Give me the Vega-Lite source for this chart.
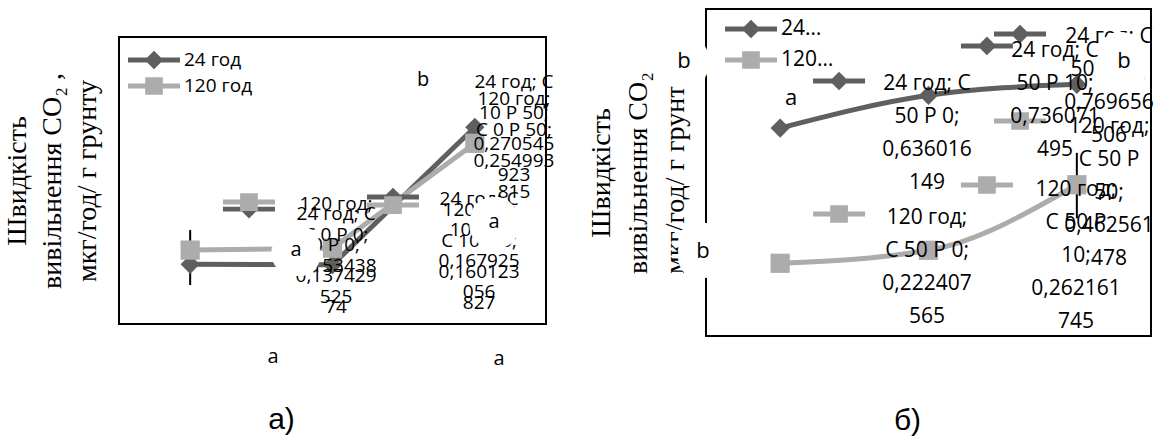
{
  "$schema": "https://vega.github.io/schema/vega-lite/v6.json",
  "background": "white",
  "padding": {"left": 2, "top": 8, "right": 0, "bottom": 0},
  "spacing": 30,
  "config": {
    "view": {"stroke": "black", "strokeWidth": 2},
    "axis": {"grid": false, "labels": false, "ticks": false, "domain": false, "titleColor": "black", "titleFontWeight": "normal"}
  },
  "resolve": {"scale": {"x": "independent", "y": "independent", "color": "independent", "shape": "independent"}},
  "datasets": {
    "a_line": [
      {"x": 1, "v": 0.1378, "s": "24 год"},
      {"x": 2, "v": 0.13742974, "s": "24 год"},
      {"x": 3, "v": 0.270545923, "s": "24 год"},
      {"x": 1, "v": 0.1516, "s": "120 год"},
      {"x": 2, "v": 0.153438525, "s": "120 год"},
      {"x": 3, "v": 0.254993815, "s": "120 год"}
    ],
    "a_err": [{"x": 1, "v": 0.1177, "hi": 0.171}],
    "a_keys": [
      {"x": 1.413, "v": 0.1913, "s": "24 год"},
      {"x": 1.413, "v": 0.1981, "s": "120 год"},
      {"x": 2.425, "v": 0.203, "s": "24 год"},
      {"x": 2.425, "v": 0.1952, "s": "120 год"}
    ],
    "a_labels": [
      {"x": 2.025, "v": 0.1865, "t": ["24 год; С", "0 Р 0;", "0,137429", "74"]},
      {"x": 2.025, "v": 0.1962, "t": ["120 год;", "С 0 Р 0;", "0,153438", "525"]},
      {"x": 3.03, "v": 0.201, "t": ["24 год; С", "10 Р 0;", "0,167925", "056"]},
      {"x": 3.03, "v": 0.1904, "t": ["120 год;", "С 10 Р 0;", "0,160123", "827"]},
      {"x": 3.275, "v": 0.3144, "t": ["24 год; С", "10 Р 50;", "0,270545", "923"]},
      {"x": 3.275, "v": 0.297, "t": ["120 год;", "С 0 Р 50;", "0,254993", "815"]}
    ],
    "a_letters": [
      {"x": 2.636, "v": 0.3163, "t": "b"},
      {"x": 1.744, "v": 0.1516, "t": "a"},
      {"x": 3.135, "v": 0.1787, "t": "a"},
      {"x": 1.582, "v": 0.0479, "t": "a"},
      {"x": 3.17, "v": 0.046, "t": "a"}
    ],
    "b_line": [
      {"x": 1, "v": 0.636016149, "s": "24 год"},
      {"x": 2, "v": 0.736071495, "s": "24 год"},
      {"x": 3, "v": 0.769656506, "s": "24 год"},
      {"x": 1, "v": 0.222407565, "s": "120 год"},
      {"x": 2, "v": 0.262161745, "s": "120 год"},
      {"x": 3, "v": 0.462561478, "s": "120 год"}
    ],
    "b_err": [{"x": 3, "v": 0.36, "hi": 0.56}],
    "b_keys": [
      {"x": 1.397, "v": 0.7798, "s": "24 год"},
      {"x": 1.397, "v": 0.3731, "s": "120 год"},
      {"x": 2.394, "v": 0.8869, "s": "24 год"},
      {"x": 2.617, "v": 0.9235, "s": "24 год"},
      {"x": 2.617, "v": 0.6575, "s": "120 год"},
      {"x": 2.394, "v": 0.4618, "s": "120 год"}
    ],
    "b_labels": [
      {"x": 1.99, "v": 0.7737, "t": ["24 год; С", "50 Р 0;", "0,636016", "149"]},
      {"x": 1.99, "v": 0.3609, "t": ["120 год;", "С 50 Р 0;", "0,222407", "565"]},
      {"x": 2.853, "v": 0.8716, "t": ["24 год; С", "50 Р 10;", "0,736071", "495"]},
      {"x": 3.217, "v": 0.9174, "t": ["24 год; С", "50 Р 50;", "0,769656", "506"]},
      {"x": 3.217, "v": 0.6422, "t": ["120 год;", "С 50 Р", "50;", "0,462561", "478"]},
      {"x": 2.994, "v": 0.4495, "t": ["120 год;", "С 50 Р", "10;", "0,262161", "745"]}
    ],
    "b_letters": [
      {"x": 0.352, "v": 0.841, "t": "b"},
      {"x": 0.48, "v": 0.26, "t": "b"},
      {"x": 3.318, "v": 0.841, "t": "b"},
      {"x": 1.073, "v": 0.728, "t": "a"}
    ],
    "empty": []
  },
  "hconcat": [
    {
      "spacing": 0,
      "vconcat": [
        {
          "width": 427,
          "height": 27,
          "view": {"stroke": null},
          "data": {"name": "empty"},
          "mark": "point",
          "encoding": {}
        },
        {
          "width": 427,
          "height": 287,
          "resolve": {"scale": {"color": "independent", "shape": "independent"}},
          "encoding": {
            "x": {"field": "x", "type": "quantitative", "scale": {"domain": [0.5, 3.5]},
                  "axis": {"title": "а)", "titleFont": "Liberation Sans", "titleFontSize": 30, "titleX": 162, "titleY": 104, "titleAlign": "center", "titleBaseline": "alphabetic"}},
            "y": {"field": "v", "type": "quantitative", "scale": {"domain": [0.08, 0.358]},
                  "axis": {"title": ["Швидкість", "вивільнення CO₂ ,", "мкг/год/ г грунту"], "titleFont": "Liberation Serif", "titleFontSize": 28, "titleLineHeight": 35, "titlePadding": 18}}
          },
          "layer": [
            {
              "data": {"name": "a_err"},
              "mark": {"type": "rule", "color": "black", "strokeWidth": 2},
              "encoding": {"y2": {"field": "hi"}}
            },
            {
              "data": {"name": "a_line"},
              "mark": {"type": "line", "strokeWidth": 5},
              "encoding": {
                "color": {"field": "s", "type": "nominal", "scale": {"domain": ["24 год", "120 год"], "range": ["#5f5f5f", "#acacac"]}, "legend": null}
              }
            },
            {
              "data": {"name": "a_line"},
              "mark": {"type": "point", "filled": true, "opacity": 1},
              "encoding": {
                "color": {"field": "s", "type": "nominal", "scale": {"domain": ["24 год", "120 год"], "range": ["#5f5f5f", "#acacac"]}, "legend": null},
                "shape": {"field": "s", "type": "nominal", "scale": {"domain": ["24 год", "120 год"], "range": ["diamond", "square"]}, "legend": null},
                "size": {"value": 370}
              }
            },
            {
              "data": {"name": "a_keys"},
              "mark": {"type": "point", "filled": true, "opacity": 1},
              "encoding": {
                "color": {"field": "s", "type": "nominal", "scale": {"domain": ["24 год", "120 год"], "range": ["#5f5f5f", "#acacac"]},
                          "legend": {"title": null, "orient": "none", "legendX": 9, "legendY": 10, "symbolSize": 676, "symbolOffset": 13, "labelOffset": 17, "rowPadding": 3, "labelFont": "Open Sans", "labelFontSize": 19, "labelColor": "black", "symbolStrokeWidth": 0}},
                "shape": {"field": "s", "type": "nominal", "scale": {"domain": ["24 год", "120 год"], "range": ["M-2,-0.19H2V0.19H-2Z M0,-0.72L0.72,0L0,0.72L-0.72,0Z", "M-2,-0.19H2V0.19H-2Z M-0.68,-0.68H0.68V0.68H-0.68Z"]},
                          "legend": {"title": null, "orient": "none", "legendX": 9, "legendY": 10, "symbolSize": 676, "symbolOffset": 13, "labelOffset": 17, "rowPadding": 3, "labelFont": "Open Sans", "labelFontSize": 19, "labelColor": "black", "symbolStrokeWidth": 0}},
                "size": {"value": 676}
              }
            },
            {
              "data": {"name": "a_labels"},
              "mark": {"type": "text", "font": "Open Sans", "fontSize": 19, "lineHeight": 31, "baseline": "line-top", "dy": -15.5, "align": "center", "color": "black"},
              "encoding": {"text": {"field": "t"}}
            },
            {
              "data": {"name": "a_letters"},
              "mark": {"type": "text", "font": "Open Sans", "fontSize": 20, "baseline": "middle", "align": "center", "fill": "white", "stroke": "white", "strokeWidth": 40, "strokeJoin": "round"},
              "encoding": {"text": {"field": "t"}}
            },
            {
              "data": {"name": "a_letters"},
              "mark": {"type": "text", "font": "Open Sans", "fontSize": 20, "baseline": "middle", "align": "center", "color": "black"},
              "encoding": {"text": {"field": "t"}}
            }
          ]
        }
      ]
    },
    {
      "width": 445,
      "height": 327,
      "resolve": {"scale": {"color": "independent", "shape": "independent"}},
      "encoding": {
        "x": {"field": "x", "type": "quantitative", "scale": {"domain": [0.5, 3.5]},
              "axis": {"title": "б)", "titleFont": "Liberation Sans", "titleFontSize": 30, "titleX": 201, "titleY": 93, "titleAlign": "center", "titleBaseline": "alphabetic"}},
        "y": {"field": "v", "type": "quantitative", "scale": {"domain": [0, 1]},
              "axis": {"title": ["Швидкість", "вивільнення CO₂", "мкг/год/ г грунту"], "titleFont": "Liberation Serif", "titleFontSize": 28, "titleLineHeight": 37, "titlePadding": 17}}
      },
      "layer": [
        {
          "data": {"name": "b_err"},
          "mark": {"type": "rule", "color": "black", "strokeWidth": 2},
          "encoding": {"y2": {"field": "hi"}}
        },
        {
          "data": {"name": "b_line"},
          "mark": {"type": "line", "strokeWidth": 5, "interpolate": "monotone"},
          "encoding": {
            "color": {"field": "s", "type": "nominal", "scale": {"domain": ["24 год", "120 год"], "range": ["#5f5f5f", "#acacac"]}, "legend": null}
          }
        },
        {
          "data": {"name": "b_line"},
          "mark": {"type": "point", "filled": true, "opacity": 1},
          "encoding": {
            "color": {"field": "s", "type": "nominal", "scale": {"domain": ["24 год", "120 год"], "range": ["#5f5f5f", "#acacac"]}, "legend": null},
            "shape": {"field": "s", "type": "nominal", "scale": {"domain": ["24 год", "120 год"], "range": ["diamond", "square"]}, "legend": null},
            "size": {"value": 370}
          }
        },
        {
          "data": {"name": "b_keys"},
          "mark": {"type": "point", "filled": true, "opacity": 1},
          "encoding": {
            "color": {"field": "s", "type": "nominal", "scale": {"domain": ["24 год", "120 год"], "range": ["#5f5f5f", "#acacac"]},
                      "legend": {"title": null, "orient": "none", "legendX": 19, "legendY": 7, "symbolSize": 676, "symbolOffset": 13, "labelOffset": 17, "rowPadding": 8, "labelFont": "Open Sans", "labelFontSize": 21, "labelColor": "black", "symbolStrokeWidth": 0, "labelExpr": "split(datum.label, ' ')[0] + '…'"}},
            "shape": {"field": "s", "type": "nominal", "scale": {"domain": ["24 год", "120 год"], "range": ["M-2,-0.19H2V0.19H-2Z M0,-0.72L0.72,0L0,0.72L-0.72,0Z", "M-2,-0.19H2V0.19H-2Z M-0.68,-0.68H0.68V0.68H-0.68Z"]},
                      "legend": {"title": null, "orient": "none", "legendX": 19, "legendY": 7, "symbolSize": 676, "symbolOffset": 13, "labelOffset": 17, "rowPadding": 8, "labelFont": "Open Sans", "labelFontSize": 21, "labelColor": "black", "symbolStrokeWidth": 0, "labelExpr": "split(datum.label, ' ')[0] + '…'"}},
            "size": {"value": 676}
          }
        },
        {
          "data": {"name": "b_labels"},
          "mark": {"type": "text", "font": "Open Sans", "fontSize": 21, "lineHeight": 33, "baseline": "line-top", "dy": -16.5, "align": "center", "color": "black"},
          "encoding": {"text": {"field": "t"}}
        },
        {
          "data": {"name": "b_letters"},
          "transform": [{"filter": "datum.t == 'b'"}],
          "mark": {"type": "text", "font": "Open Sans", "fontSize": 22, "baseline": "middle", "align": "center", "fill": "white", "stroke": "white", "strokeWidth": 40, "strokeJoin": "round"},
          "encoding": {"text": {"field": "t"}}
        },
        {
          "data": {"name": "b_letters"},
          "mark": {"type": "text", "font": "Open Sans", "fontSize": 22, "baseline": "middle", "align": "center", "color": "black"},
          "encoding": {"text": {"field": "t"}}
        }
      ]
    }
  ]
}
